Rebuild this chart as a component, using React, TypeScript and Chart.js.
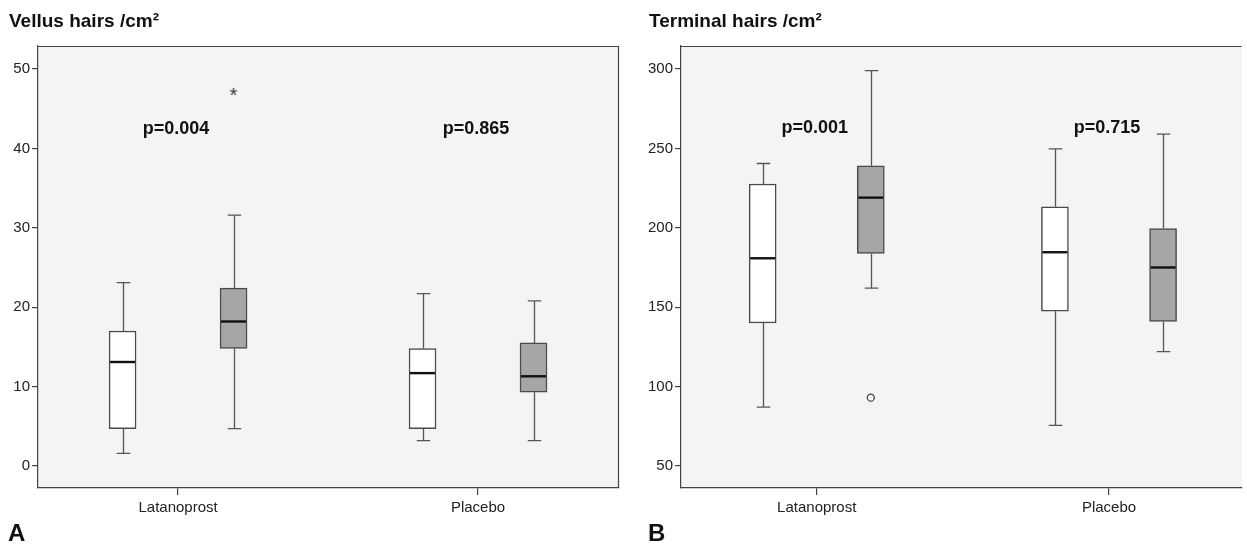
import React, { useEffect, useRef } from "react";
import { Chart, registerables } from "chart.js";

Chart.register(...registerables);

const categories = ["Latanoprost", "Placebo"];

// Five-number summaries [min, Q1, median, Q3, max], one per category
const vellusWhite = [
  [1.6, 4.7, 13.1, 17.0, 23.1],
  [3.2, 4.7, 11.7, 14.8, 21.7],
];
const vellusGray = [
  [4.7, 14.8, 18.2, 22.4, 31.6],
  [3.2, 9.3, 11.3, 15.5, 20.8],
];
// [category index, group index (0 white, 1 gray), value]
const vellusOutliers = [[0, 1, 47.0]];
const vellusTicks = [0, 10, 20, 30, 40, 50];
const vellusP = ["p=0.004", "p=0.865"];

const terminalWhite = [
  [87, 140, 180.8, 227.6, 240.5],
  [75.5, 147.5, 184.6, 213.2, 249.7],
];
const terminalGray = [
  [162, 183.8, 219, 239, 299],
  [122, 141, 175, 199.5, 259],
];
const terminalOutliers = [[0, 1, 93]];
const terminalTicks = [50, 100, 150, 200, 250, 300];
const terminalP = ["p=0.001", "p=0.715"];

const GROUP_OFFSET = 0.185;
const FONT = "'Liberation Sans', Arial, Helvetica, sans-serif";
const BG = "#f4f4f4";
const AXIS = "#444";

function makeAsterisk(): HTMLCanvasElement {
  const c = document.createElement("canvas");
  c.width = 16;
  c.height = 16;
  const g = c.getContext("2d")!;
  g.fillStyle = "#333";
  g.font = `20px ${FONT}`;
  g.textAlign = "center";
  g.textBaseline = "middle";
  g.fillText("*", 8, 11);
  return c;
}

type PanelProps = {
  title: string;
  letter: string;
  white: number[][];
  gray: number[][];
  outliers: number[][];
  outlierStyle: "star" | "circle";
  yTicks: number[];
  yMin: number;
  yMax: number;
  pLabels: string[];
  pLevel: number;
  xMin: number;
  xMax: number;
  left: number;
  width: number;
  axisWidth: number;
  rightPad: number;
  rightBorder: boolean;
};

function Panel(p: PanelProps) {
  const ref = useRef<HTMLCanvasElement | null>(null);

  useEffect(() => {
    if (!ref.current) return;
    const groups = [p.white, p.gray];

    const boxPlugin = {
      id: "boxplotInline",
      beforeDraw(chart: any) {
        const { ctx, chartArea: a } = chart;
        ctx.save();
        ctx.fillStyle = BG;
        ctx.fillRect(a.left, a.top, a.right - a.left, a.bottom - a.top);
        ctx.restore();
      },
      beforeDatasetsDraw(chart: any) {
        const { ctx } = chart;
        const ys = chart.scales.y;
        ctx.save();
        ctx.strokeStyle = "#555";
        ctx.lineWidth = 1.3;
        groups.forEach((stats, gi) => {
          const meta = chart.getDatasetMeta(gi);
          meta.data.forEach((el: any, i: number) => {
            const s = stats[i];
            const x = Math.round(el.x) + 0.5;
            const cap = el.width * 0.25;
            const pMin = ys.getPixelForValue(s[0]);
            const pQ1 = ys.getPixelForValue(s[1]);
            const pQ3 = ys.getPixelForValue(s[3]);
            const pMax = ys.getPixelForValue(s[4]);
            ctx.beginPath();
            ctx.moveTo(x, pQ1);
            ctx.lineTo(x, pMin);
            ctx.moveTo(x - cap, pMin);
            ctx.lineTo(x + cap, pMin);
            ctx.moveTo(x, pQ3);
            ctx.lineTo(x, pMax);
            ctx.moveTo(x - cap, pMax);
            ctx.lineTo(x + cap, pMax);
            ctx.stroke();
          });
        });
        ctx.restore();
      },
      afterDatasetsDraw(chart: any) {
        const { ctx, chartArea: a } = chart;
        const ys = chart.scales.y;
        ctx.save();
        ctx.strokeStyle = "#111";
        ctx.lineWidth = 2.4;
        groups.forEach((stats, gi) => {
          const meta = chart.getDatasetMeta(gi);
          meta.data.forEach((el: any, i: number) => {
            const y = ys.getPixelForValue(stats[i][2]);
            ctx.beginPath();
            ctx.moveTo(el.x - el.width / 2 + 1, y);
            ctx.lineTo(el.x + el.width / 2 - 1, y);
            ctx.stroke();
          });
        });
        ctx.strokeStyle = AXIS;
        ctx.lineWidth = 1.2;
        ctx.beginPath();
        ctx.moveTo(a.left, a.top + 0.5);
        ctx.lineTo(a.right, a.top + 0.5);
        if (p.rightBorder) {
          ctx.moveTo(a.right - 0.5, a.top);
          ctx.lineTo(a.right - 0.5, a.bottom);
        }
        ctx.stroke();
        ctx.restore();
      },
      afterDraw(chart: any) {
        const { ctx } = chart;
        const xs = chart.scales.x;
        const ys = chart.scales.y;
        ctx.save();
        ctx.fillStyle = "#111";
        ctx.textAlign = "left";
        ctx.textBaseline = "alphabetic";
        ctx.font = `bold 19px ${FONT}`;
        ctx.fillText(p.title, 9, 27);
        ctx.font = `bold 24px ${FONT}`;
        ctx.fillText(p.letter, 8, 541);
        ctx.font = `bold 18px ${FONT}`;
        ctx.textAlign = "center";
        ctx.textBaseline = "middle";
        p.pLabels.forEach((t, i) => {
          ctx.fillText(t, xs.getPixelForValue(i + 1) - 2, ys.getPixelForValue(p.pLevel));
        });
        ctx.restore();
      },
    };

    const mkBars = (stats: number[][], sign: number, fill: string, label: string) => ({
      type: "bar" as const,
      label,
      data: categories.map((_, i) => ({
        x: i + 1 + sign * GROUP_OFFSET,
        y: [stats[i][1], stats[i][3]],
      })),
      backgroundColor: fill,
      borderColor: "#4a4a4a",
      borderWidth: 1.5,
      borderSkipped: false,
      barThickness: 27,
      grouped: false,
    });

    const isStar = p.outlierStyle === "star";
    const chart = new Chart(ref.current, {
      type: "bar",
      data: {
        datasets: [
          mkBars(p.white, -1, "#ffffff", "white"),
          mkBars(p.gray, 1, "#a6a6a6", "gray"),
          {
            type: "scatter" as const,
            label: "outliers",
            data: p.outliers.map((o) => ({
              x: o[0] + 1 + (o[1] === 1 ? GROUP_OFFSET : -GROUP_OFFSET),
              y: o[2],
            })),
            pointStyle: isStar ? makeAsterisk() : "circle",
            pointRadius: 3.5,
            borderColor: "#444",
            backgroundColor: BG,
            borderWidth: 1.3,
          } as any,
        ],
      },
      options: {
        animation: false,
        responsive: false,
        devicePixelRatio: 1,
        events: [],
        layout: { padding: { left: 0, top: 46, right: p.rightPad, bottom: 0 } },
        plugins: {
          legend: { display: false },
          tooltip: { enabled: false },
          title: { display: false },
        },
        scales: {
          x: {
            type: "linear",
            offset: false,
            min: p.xMin,
            max: p.xMax,
            afterBuildTicks: (s: any) => {
              s.ticks = categories.map((_, i) => ({ value: i + 1 }));
            },
            afterFit: (s: any) => {
              s.height = 56;
            },
            ticks: {
              autoSkip: false,
              maxRotation: 0,
              padding: 4,
              color: "#222",
              font: { family: FONT, size: 15 },
              callback: (v: any) => categories[Math.round(Number(v)) - 1] ?? "",
            },
            grid: {
              offset: false,
              drawOnChartArea: false,
              drawTicks: true,
              tickLength: 7,
              color: AXIS,
              lineWidth: 1.2,
            },
            border: { display: true, color: AXIS, width: 1.2 },
          },
          y: {
            type: "linear",
            min: p.yMin,
            max: p.yMax,
            afterBuildTicks: (s: any) => {
              s.ticks = p.yTicks.map((v) => ({ value: v }));
            },
            afterFit: (s: any) => {
              s.width = p.axisWidth;
            },
            ticks: {
              padding: 2,
              color: "#222",
              font: { family: FONT, size: 15 },
            },
            grid: { drawOnChartArea: false, drawTicks: true, tickLength: 6, color: AXIS, lineWidth: 1.2 },
            border: { display: true, color: AXIS, width: 1.2 },
          },
        },
      } as any,
      plugins: [boxPlugin as any],
    });
    return () => chart.destroy();
  }, []);

  return (
    <canvas
      ref={ref}
      width={p.width}
      height={544}
      style={{ position: "absolute", left: p.left, top: 0, width: p.width, height: 544 }}
    />
  );
}

export default function App() {
  return (
    <div
      style={{
        position: "absolute",
        left: 0,
        top: 0,
        width: 1247,
        height: 544,
        background: "#ffffff",
        overflow: "hidden",
      }}
    >
      <Panel
        title="Vellus hairs /cm²"
        letter="A"
        white={vellusWhite}
        gray={vellusGray}
        outliers={vellusOutliers}
        outlierStyle="star"
        yTicks={vellusTicks}
        yMin={-2.77}
        yMax={52.9}
        pLabels={vellusP}
        pLevel={42.5}
        xMin={0.533}
        xMax={2.47}
        left={0}
        width={640}
        axisWidth={38}
        rightPad={21}
        rightBorder={true}
      />
      <Panel
        title="Terminal hairs /cm²"
        letter="B"
        white={terminalWhite}
        gray={terminalGray}
        outliers={terminalOutliers}
        outlierStyle="circle"
        yTicks={terminalTicks}
        yMin={36.1}
        yMax={314.5}
        pLabels={terminalP}
        pLevel={262.7}
        xMin={0.5356}
        xMax={2.454}
        left={640}
        width={607}
        axisWidth={41}
        rightPad={0}
        rightBorder={false}
      />
    </div>
  );
}
